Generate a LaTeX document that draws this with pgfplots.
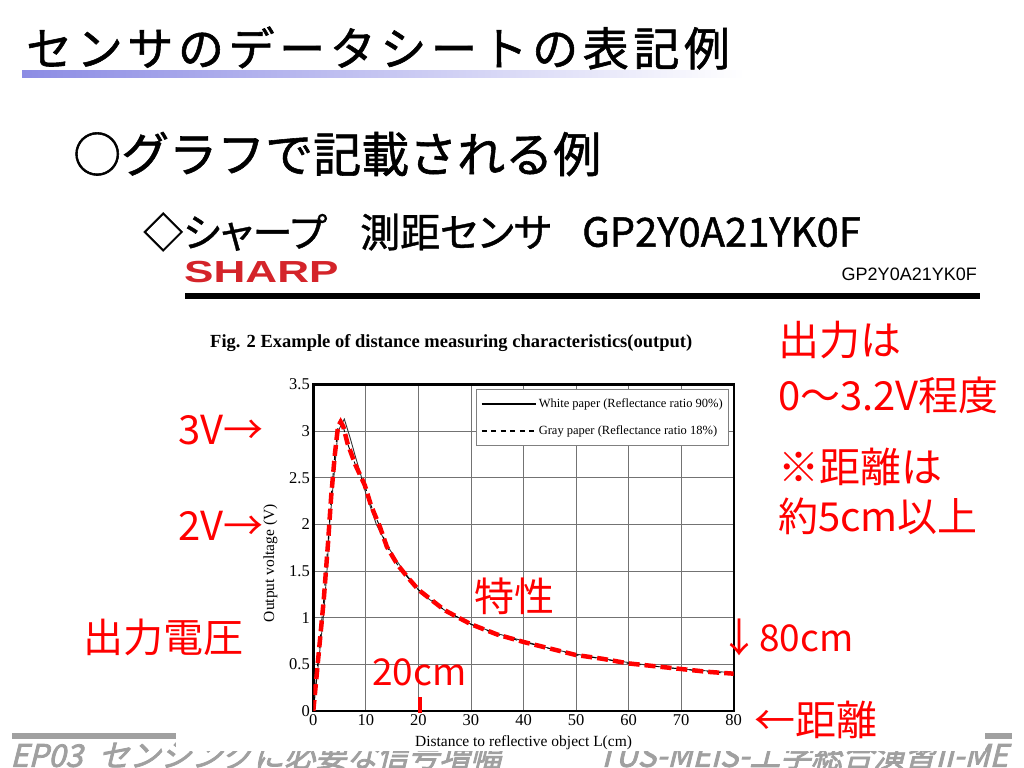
\documentclass[border=0pt]{standalone}
\usepackage{pgfplots}
\pgfplotsset{compat=1.18}
\usepackage{fontspec}
\setmainfont{Liberation Serif}
\newfontfamily\jp{Noto Sans CJK JP}
\newfontfamily\jpb[FakeBold=1.2]{Noto Sans CJK JP}
\newfontfamily\jpp[RawFeature=+palt,FakeBold=1.0]{Noto Sans CJK JP}
\newfontfamily\jpt[LetterSpace=10,FakeBold=1.2]{Noto Sans CJK JP}
\newfontfamily\jpfoot[FakeSlant=0.25,FakeBold=2.5]{Noto Sans CJK JP}
\newfontfamily\arial{Liberation Sans}
\definecolor{annred}{RGB}{255,0,0}
\definecolor{sharpred}{RGB}{212,36,42}
\definecolor{footgray}{RGB}{160,160,160}
\definecolor{barblue}{RGB}{140,140,228}
\newcommand{\fs}[1]{\fontsize{#1bp}{#1bp}\selectfont}

\pgfplotstableread{
x y
0 0
1 0.52
1.9 1.0
2.6 1.5
3.1 2.0
3.9 2.5
4.7 3.0
5.9 3.13
7 2.93
8 2.73
9.2 2.50
10 2.33
12 2.0
14 1.78
16 1.6
18 1.44
20 1.30
22 1.2
25 1.08
30 0.93
35 0.83
40 0.75
45 0.67
50 0.61
55 0.56
60 0.52
65 0.48
70 0.45
75 0.43
80 0.41
}\white

\pgfplotstableread{
x y
0 0
0.5 0.3
1 0.6
2 1.2
2.8 1.8
3.4 2.3
4.1 2.75
4.7 3.05
5.2 3.10
5.7 3.05
6.5 2.87
8 2.64
9.8 2.42
11 2.2
12.7 1.97
14 1.76
16 1.57
18 1.43
20 1.30
25 1.08
30 0.93
35 0.82
40 0.74
45 0.67
50 0.60
55 0.56
60 0.51
65 0.48
70 0.45
75 0.42
80 0.40
}\gray

\begin{document}
\begin{tikzpicture}[x=1bp,y=1bp]
\path[use as bounding box, fill=white] (0,0) rectangle (1024,768);
% footer
\fill[footgray] (12,29) rectangle (178,35);
\fill[footgray] (985,29) rectangle (1012,35);
\node[anchor=west, inner sep=0, text=footgray] at (10,13) {\jpfoot\fs{31}EP03\hspace{16bp}センシングに必要な信号増幅};
\node[anchor=east, inner sep=0, text=footgray] at (1008,13) {\jpfoot\fs{31}TUS-MEIS-工学総合演習II-ME};
\fill[white] (176,17) rectangle (985,470);
% title
\node[anchor=west, inner sep=0] at (26,720) {\jpt\fs{46}センサのデータシートの表記例};
\shade[left color=barblue, right color=white] (22,690) rectangle (745,697);
\node[anchor=west, inner sep=0] at (73,614) {\jpb\fs{48}○グラフで記載される例};
\node[anchor=west, inner sep=0] at (143,536) {\jpp\fs{40}◇シャープ};
\node[anchor=west, inner sep=0] at (360,536) {\jpp\fs{40}測距センサ};
\node[anchor=west, inner sep=0] at (582,536) {\jpb\fs{40}GP2Y0A21YK0F};
% datasheet header
\node[anchor=west, inner sep=0, text=sharpred] at (184,495.5) {\scalebox{1.52}[1.05]{\arial\bfseries\fs{29}SHARP}};
\node[anchor=east, inner sep=0] at (977,494) {\arial\fs{18}GP2Y0A21YK0F};
\fill (185,469) rectangle (980,475);
\node[anchor=west, inner sep=0] at (210,425) {\bfseries\fs{18.5}Fig. 2 Example of distance measuring characteristics(output)};

\begin{axis}[
  at={(313.3bp,57bp)}, anchor=south west, scale only axis,
  width=420.4bp, height=326.5bp,
  xmin=0, xmax=80, ymin=0, ymax=3.5,
  xtick={0,10,...,80}, ytick={0,0.5,1,1.5,2,2.5,3,3.5},
  yticklabels={0,0.5,1,1.5,2,2.5,3,3.5},
  grid=major, major grid style={draw=black!55, line width=0.9bp},
  axis line style={line width=2.4bp},
  major tick length=0pt,
  tick label style={font=\fs{16.5}},
  /pgf/number format/assume math mode=true,
  xlabel={Distance to reflective object L(cm)},
  ylabel={Output voltage (V)},
  label style={font=\fs{15.5}},
  xlabel style={at={(axis description cs:0.5,-0.098)}, anchor=center},
  ylabel style={at={(axis description cs:-0.1023,0.453)}, anchor=center},
  legend style={at={(1,1)}, anchor=north east, xshift=-4.6bp, yshift=-4.5bp,
    draw=black!50, line width=0.8bp, fill=white,
    font=\fs{12.5}, cells={anchor=west}, row sep=13bp,
    inner xsep=4bp, inner ysep=7bp},
  legend image code/.code={\path (0bp,0bp) -- (54bp,0bp); \draw[#1] (0bp,0bp) -- (44bp,0bp);},
]
\addlegendimage{black, line width=2bp}
\addlegendentry{White paper (Reflectance ratio 90\%)}
\addlegendimage{black, line width=2bp, dash pattern=on 5bp off 4.5bp}
\addlegendentry{Gray paper (Reflectance ratio 18\%)}
\addplot[black!80, line width=0.9bp, mark=none, forget plot] table[x=x,y=y] {\white};
\addplot[black, line width=0.9bp, dash pattern=on 5bp off 4bp, mark=none, forget plot] table[x=x,y=y] {\gray};
\addplot[annred, line width=4.5bp, dash pattern=on 11bp off 5bp, mark=none, forget plot] table[x=x,y=y] {\gray};
\end{axis}

% red annotations
\draw[annred, line width=4bp] (420,55) -- (420,71);
\node[anchor=west, inner sep=0, text=annred] at (778,428) {\jp\fs{41}出力は};
\node[anchor=west, inner sep=0, text=annred] at (778,373) {\jp\fs{40}0〜3.2V程度};
\node[anchor=west, inner sep=0, text=annred] at (778,301) {\jp\fs{41}※距離は};
\node[anchor=west, inner sep=0, text=annred] at (778,252) {\jp\fs{40}約5cm以上};
\node[anchor=west, inner sep=0, text=annred] at (178,338) {\jp\fs{40}3V→};
\node[anchor=west, inner sep=0, text=annred] at (178,242) {\jp\fs{40}2V→};
\node[anchor=west, inner sep=0, text=annred] at (83,131) {\jp\fs{40}出力電圧};
\node[anchor=west, inner sep=0, text=annred] at (474,172) {\jp\fs{40}特性};
\node[anchor=west, inner sep=0, text=annred] at (372,96) {\jp\fs{37}20cm};
\node[anchor=center, inner sep=0, text=annred] at (739,131) {\jp\fs{40}↓};
\node[anchor=west, inner sep=0, text=annred] at (759,130) {\jp\fs{37}80cm};
\node[anchor=west, inner sep=0, text=annred] at (754,48) {\jp\fs{41}←距離};
\end{tikzpicture}
\end{document}
